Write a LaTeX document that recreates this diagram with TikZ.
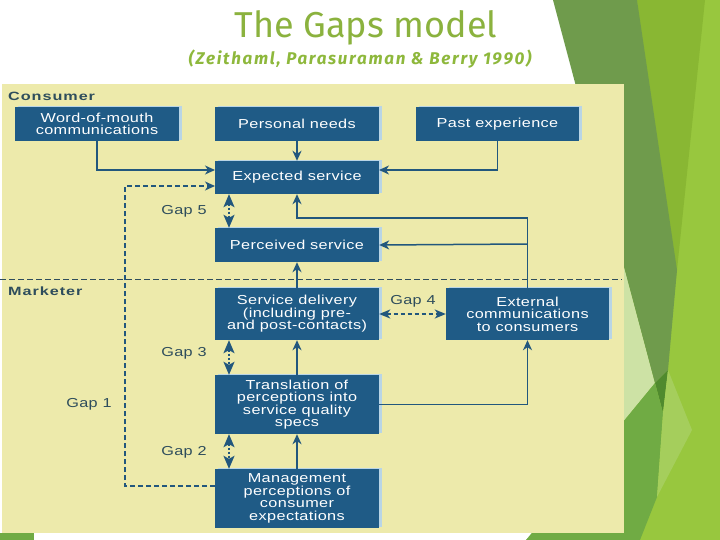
\documentclass[tikz,border=0pt]{standalone}
\usepackage{fontspec}
\usetikzlibrary{arrows.meta,shadows}
\newfontfamily\boxfont{Liberation Sans}[FakeStretch=1.25,LetterSpace=3]
\newfontfamily\lblfont{Liberation Sans}[FakeStretch=1.35,LetterSpace=8]
\newfontfamily\titlefont{Fira Sans}
\newfontfamily\subfont{Fira Sans}[LetterSpace=10]
\definecolor{titlegreen}{RGB}{139,178,62}
\definecolor{subgreen}{RGB}{142,184,60}
\definecolor{panel}{RGB}{237,234,171}
\definecolor{boxblue}{RGB}{31,91,134}
\definecolor{shadowblue}{RGB}{185,213,230}
\definecolor{lineblue}{RGB}{34,87,125}
\definecolor{lbltext}{RGB}{46,77,92}
\definecolor{gLight}{RGB}{152,199,62}
\definecolor{gMid}{RGB}{137,183,51}
\definecolor{gDark}{RGB}{111,155,76}
\definecolor{gDeep}{RGB}{80,138,46}
\definecolor{gPale}{RGB}{205,226,165}
\definecolor{gMed}{RGB}{112,171,68}
\definecolor{gLightish}{RGB}{165,206,92}
\tikzset{
  gbox/.style={rectangle, fill=boxblue, text=white, align=center, inner sep=0pt,
    font=\boxfont\fontsize{13}{12.5}\selectfont, minimum width=164pt,
    drop shadow={shadow xshift=3pt, shadow yshift=1pt, fill=shadowblue, opacity=1}},
  conn/.style={draw=lineblue, line width=1.5pt, -{Stealth[length=10pt,width=9pt,inset=3pt]}},
  gaparrow/.style={draw=lineblue, line width=1.5pt, dash pattern=on 2pt off 2pt,
    {Stealth[length=13pt,width=11pt,inset=3pt]}-{Stealth[length=13pt,width=11pt,inset=3pt]}},
  gaparrowh/.style={draw=lineblue, line width=1.5pt, dash pattern=on 4pt off 3pt,
    {Stealth[length=11pt,width=9pt,inset=3pt]}-{Stealth[length=11pt,width=9pt,inset=3pt]}},
  gapdash/.style={draw=lineblue, line width=1.5pt, dash pattern=on 5pt off 3pt,
    -{Stealth[length=10pt,width=9pt,inset=3pt]}},
  sepline/.style={draw=lbltext, line width=1pt, dash pattern=on 6pt off 3pt},
  gaplbl/.style={text=lbltext, font=\boxfont\fontsize{13}{12}\selectfont, inner sep=0pt},
  sidelbl/.style={text=lbltext, font=\lblfont\bfseries\fontsize{12}{12}\selectfont, inner sep=0pt, anchor=west}
}
\begin{document}
\begin{tikzpicture}[x=1pt,y=-1pt]
\useasboundingbox (0,0) rectangle (720,540);
\fill[white] (0,0) rectangle (720,540);
% decoration on the right
\fill[gLight] (600,0) -- (720,0) -- (720,540) -- (526,540) -- (600,500) -- cycle;
\fill[gMid] (637,0) -- (705,0) -- (677,270) -- (670,330) -- cycle;
\fill[gPale] (601,180) -- (655,383) -- (600,450) -- cycle;
\fill[gDark] (553,0) -- (637,0) -- (677,270) -- (668,370) -- (655,383) -- cycle;
\fill[gDeep] (655,383) -- (668,370) -- (663,413) -- cycle;
\fill[gMed] (600,450) -- (655,383) -- (663,413) -- (657,497) -- (640,540) -- (526,540) -- cycle;
\fill[gLightish] (668,370) -- (692,430) -- (657,497) -- (663,413) -- cycle;
\fill[gMed] (0,533) rectangle (34,540);
% panel
\fill[panel] (2,84) rectangle (624,533);
% title
\node[text=titlegreen, font=\titlefont\fontsize{36}{36}\selectfont, anchor=base] (title) at (366,38) {The Gaps model};
\node[text=subgreen, font=\subfont\bfseries\itshape\fontsize{17}{17}\selectfont, anchor=base] (subtitle) at (360,65) {(Zeithaml, Parasuraman \& Berry 1990)};
% side labels
\node[sidelbl, anchor=base west] (consumer) at (8,101) {Consumer};
\node[sidelbl, anchor=base west] (marketer) at (8,295) {Marketer};
% boxes
\node[gbox, minimum height=34pt] (wom) at (97,124) {Word-of-mouth\\communications};
\node[gbox, minimum height=34pt] (pn) at (297,124) {Personal needs};
\node[gbox, minimum height=34pt, minimum width=163pt] (pe) at (497.5,124) {Past experience};
\node[gbox, minimum height=33pt] (es) at (297,177.5) {Expected service};
\node[gbox, minimum height=34pt] (ps) at (297,245) {Perceived service};
\node[gbox, minimum height=52pt] (sd) at (297,314) {Service delivery\\(including pre-\\and post-contacts)};
\node[gbox, minimum height=52pt, minimum width=163pt] (ec) at (527.5,314) {External\\communications\\to consumers};
\node[gbox, minimum height=59pt] (tr) at (297,404.5) {Translation of\\perceptions into\\service quality\\specs};
\node[gbox, minimum height=59pt] (mp) at (297,498.5) {Management\\perceptions of\\consumer\\expectations};
% gap labels
\node[gaplbl] (g5) at (184,211) {Gap 5};
\node[gaplbl] (g3) at (184,353) {Gap 3};
\node[gaplbl] (g1) at (89,404) {Gap 1};
\node[gaplbl] (g2) at (184,452) {Gap 2};
\node[gaplbl] (g4) at (413,301) {Gap 4};
% helper coordinates
\coordinate (gx) at (229,0);
\coordinate (esL1) at (215,170);
\coordinate (esR1) at (379,170);
\coordinate (esL2) at (215,186);
\coordinate (mpL) at (215,486);
\coordinate (g1c) at (125,336);
\coordinate (fb) at (297,218);
\coordinate (br) at (527.5,244);
\coordinate (sepL) at (0,279);
\coordinate (sepR) at (622,279);
% separator
\draw[sepline] (sepL) -- (sepR);
% connectors
\draw[conn] (wom.south) |- (esL1);
\draw[conn] (pn.south) -- (es.north);
\draw[conn] (pe.south) |- (esR1);
\draw[gapdash] (mpL) -| (g1c) |- (esL2);
\draw[gaparrow] (es.south -| gx) -- (ps.north -| gx);
\draw[conn] (ec.north) |- (fb) -- (es.south);
\draw[conn] (br) -- (ps.east);
\draw[conn] (sd.north) -- (ps.south);
\draw[gaparrowh] (sd.east) -- (ec.west);
\draw[gaparrow] (sd.south -| gx) -- (tr.north -| gx);
\draw[conn] (tr.north) -- (sd.south);
\draw[conn] (tr.east) -| (ec.south);
\draw[gaparrow] (tr.south -| gx) -- (mp.north -| gx);
\draw[conn] (mp.north) -- (tr.south);
\end{tikzpicture}
\end{document}
